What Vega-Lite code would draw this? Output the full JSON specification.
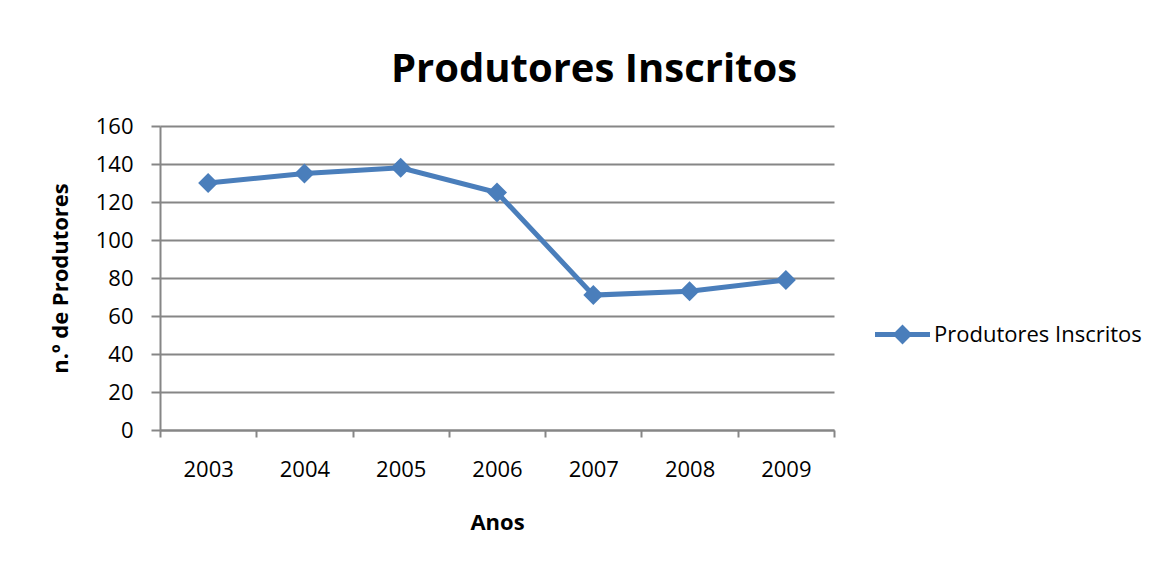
{
  "$schema": "https://vega.github.io/schema/vega-lite/v6.json",
  "width": 674,
  "height": 304,
  "autosize": {"type": "none"},
  "padding": {"left": 160, "top": 126, "right": 330, "bottom": 133},
  "background": "white",
  "title": {
    "text": "Produtores Inscritos",
    "font": "Open Sans",
    "fontSize": 40,
    "fontWeight": "bold",
    "color": "black",
    "anchor": "middle",
    "dx": 97,
    "baseline": "alphabetic",
    "offset": -7
  },
  "data": {
    "values": [
      {"ano": "2003", "produtores": 130, "serie": "Produtores Inscritos"},
      {"ano": "2004", "produtores": 135, "serie": "Produtores Inscritos"},
      {"ano": "2005", "produtores": 138, "serie": "Produtores Inscritos"},
      {"ano": "2006", "produtores": 125, "serie": "Produtores Inscritos"},
      {"ano": "2007", "produtores": 71, "serie": "Produtores Inscritos"},
      {"ano": "2008", "produtores": 73, "serie": "Produtores Inscritos"},
      {"ano": "2009", "produtores": 79, "serie": "Produtores Inscritos"}
    ]
  },
  "encoding": {
    "x": {
      "field": "ano",
      "type": "ordinal",
      "scale": {"type": "band", "paddingInner": 0, "paddingOuter": 0},
      "axis": {
        "title": "Anos",
        "titleFont": "Open Sans",
        "titleFontSize": 22,
        "titleFontWeight": "bold",
        "titleColor": "black",
        "titlePadding": 32,
        "labelFont": "Open Sans",
        "labelFontSize": 22,
        "labelColor": "black",
        "labelAngle": 0,
        "labelPadding": 22,
        "tickBand": "extent",
        "tickSize": 7,
        "tickColor": "#868686",
        "tickWidth": 2,
        "domainColor": "#868686",
        "domainWidth": 2,
        "grid": false
      }
    },
    "y": {
      "field": "produtores",
      "type": "quantitative",
      "scale": {"domain": [0, 160], "nice": false},
      "axis": {
        "title": "n.º de Produtores",
        "titleFont": "Open Sans",
        "titleFontSize": 22,
        "titleFontWeight": "bold",
        "titleColor": "black",
        "titlePadding": 23,
        "labelFont": "Open Sans",
        "labelFontSize": 22,
        "labelColor": "black",
        "labelPadding": 18,
        "values": [0, 20, 40, 60, 80, 100, 120, 140, 160],
        "tickSize": 9,
        "tickColor": "#868686",
        "tickWidth": 2,
        "domainColor": "#868686",
        "domainWidth": 2,
        "grid": true,
        "gridColor": "#868686",
        "gridWidth": 2
      }
    }
  },
  "layer": [
    {
      "mark": {"type": "line", "strokeWidth": 5, "color": "#4a7ebb"}
    },
    {
      "mark": {"type": "point", "shape": "diamond", "size": 400, "filled": true, "opacity": 1},
      "encoding": {
        "color": {
          "field": "serie",
          "type": "nominal",
          "scale": {"range": ["#4a7ebb"]},
          "legend": {
            "orient": "none",
            "legendX": 715,
            "legendY": 181,
            "title": null,
            "symbolType": "M-1,-0.09L-0.27,-0.09L0,-0.36L0.27,-0.09L1,-0.09L1,0.09L0.27,0.09L0,0.36L-0.27,0.09L-1,0.09Z",
            "symbolSize": 3025,
            "symbolStrokeWidth": 0,
            "symbolOpacity": 1,
            "labelFont": "Open Sans",
            "labelFontSize": 22,
            "labelColor": "black",
            "labelOffset": 4,
            "labelLimit": 400,
            "padding": 0
          }
        }
      }
    }
  ],
  "config": {"view": {"stroke": null}}
}
